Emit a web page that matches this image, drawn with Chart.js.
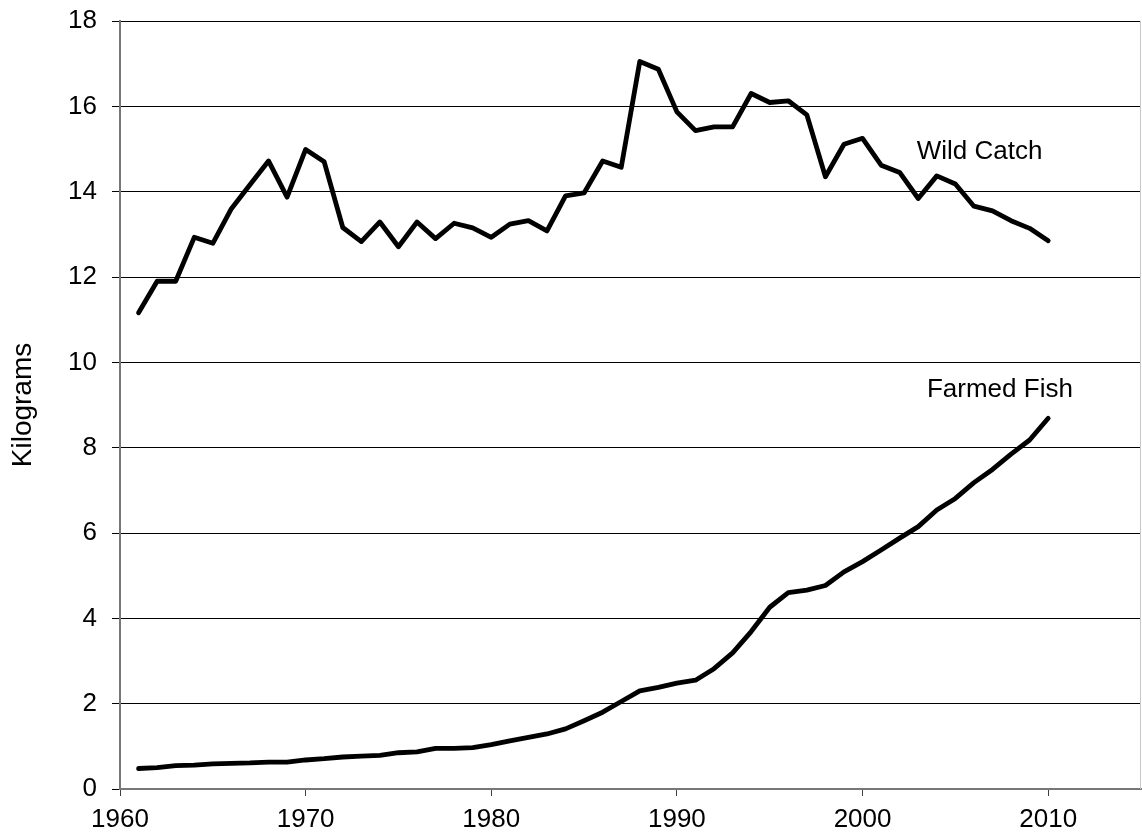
<!DOCTYPE html>
<html>
<head>
<meta charset="utf-8">
<script src="https://cdn.jsdelivr.net/npm/chart.js@4/dist/chart.umd.min.js"></script>
<style>
html,body{margin:0;padding:0;background:#fff;}
#wrap{width:1142px;height:840px;position:relative;}
</style>
</head>
<body>
<div id="wrap"><canvas id="c"></canvas></div>
<script>
// ---- data ----
const years = [1961,1962,1963,1964,1965,1966,1967,1968,1969,1970,
               1971,1972,1973,1974,1975,1976,1977,1978,1979,1980,
               1981,1982,1983,1984,1985,1986,1987,1988,1989,1990,
               1991,1992,1993,1994,1995,1996,1997,1998,1999,2000,
               2001,2002,2003,2004,2005,2006,2007,2008,2009,2010];
const wildCatch = [11.16,11.90,11.90,12.93,12.79,13.60,14.16,14.72,13.87,14.99,
                   14.70,13.16,12.83,13.29,12.71,13.29,12.90,13.26,13.15,12.93,
                   13.24,13.32,13.08,13.90,13.97,14.72,14.57,17.05,16.87,15.87,
                   15.43,15.52,15.52,16.30,16.09,16.13,15.80,14.35,15.11,15.25,
                   14.62,14.45,13.84,14.37,14.18,13.66,13.55,13.32,13.14,12.85];
const farmedFish = [0.48,0.50,0.55,0.56,0.59,0.60,0.61,0.63,0.63,0.68,
                    0.71,0.75,0.77,0.79,0.85,0.87,0.95,0.95,0.97,1.04,
                    1.13,1.21,1.29,1.41,1.60,1.80,2.05,2.30,2.38,2.48,
                    2.55,2.82,3.19,3.69,4.26,4.60,4.66,4.77,5.09,5.33,
                    5.60,5.88,6.15,6.54,6.81,7.18,7.49,7.85,8.18,8.69];
const seriesNames = ['Wild Catch', 'Farmed Fish'];
const yAxisTitle = 'Kilograms';

// ---- label anchors (data coordinates) ----
const labelAnchors = [
  {text: seriesNames[0], x: 2006.3, y: 14.93},
  {text: seriesNames[1], x: 2007.4, y: 9.36}
];

const FONT = '"Liberation Sans", Arial, sans-serif';

const toPoints = vals => years.map((yr, i) => ({x: yr, y: vals[i]}));

const annot = {
  id: 'annot',
  afterDatasetsDraw(chart) {
    const {ctx, chartArea: a, scales: {x, y}} = chart;
    ctx.save();
    ctx.strokeStyle = '#c8c8c8';
    ctx.lineWidth = 1;
    ctx.beginPath();
    ctx.moveTo(a.right - 0.5, a.top);
    ctx.lineTo(a.right - 0.5, a.bottom);
    ctx.stroke();
    ctx.font = '26px ' + FONT;
    ctx.fillStyle = '#000';
    ctx.textAlign = 'center';
    ctx.textBaseline = 'middle';
    labelAnchors.forEach(l => ctx.fillText(l.text, x.getPixelForValue(l.x), y.getPixelForValue(l.y)));
    ctx.restore();
  }
};

const lineStyle = {
  borderColor: '#000',
  backgroundColor: '#000',
  borderWidth: 4.8,
  pointRadius: 0,
  tension: 0,
  fill: false,
  borderJoinStyle: 'round',
  borderCapStyle: 'round'
};

const zeroPad = s => { s.paddingTop = 0; s.paddingBottom = 0; s.paddingLeft = 0; s.paddingRight = 0; };

new Chart(document.getElementById('c'), {
  type: 'line',
  data: {
    datasets: [
      Object.assign({label: seriesNames[0], data: toPoints(wildCatch)}, lineStyle),
      Object.assign({label: seriesNames[1], data: toPoints(farmedFish)}, lineStyle)
    ]
  },
  options: {
    responsive: true,
    maintainAspectRatio: false,
    animation: false,
    layout: {padding: {top: 21, right: 1, left: 0, bottom: 0}},
    plugins: {legend: {display: false}, tooltip: {enabled: false}},
    scales: {
      x: {
        type: 'linear',
        min: 1960,
        max: 2015,
        afterFit: s => { s.height = 51; zeroPad(s); },
        ticks: {
          stepSize: 10,
          includeBounds: false,
          autoSkip: false,
          maxRotation: 0,
          padding: 8,
          color: '#000',
          font: {family: FONT, size: 26},
          callback: v => String(v)
        },
        grid: {drawOnChartArea: false, drawTicks: true, tickLength: 7, color: '#404040', lineWidth: 1},
        border: {display: true, color: '#777', width: 2}
      },
      y: {
        min: 0,
        max: 18,
        afterFit: s => { s.width = 120; zeroPad(s); },
        ticks: {
          stepSize: 2,
          padding: 15,
          color: '#000',
          font: {family: FONT, size: 26}
        },
        grid: {color: '#000', lineWidth: 1, tickLength: 8},
        border: {display: true, color: '#777', width: 2},
        title: {
          display: true,
          text: yAxisTitle,
          color: '#000',
          font: {family: FONT, size: 28},
          padding: {top: 6, bottom: 0}
        }
      }
    }
  },
  plugins: [annot]
});
</script>
</body>
</html>
